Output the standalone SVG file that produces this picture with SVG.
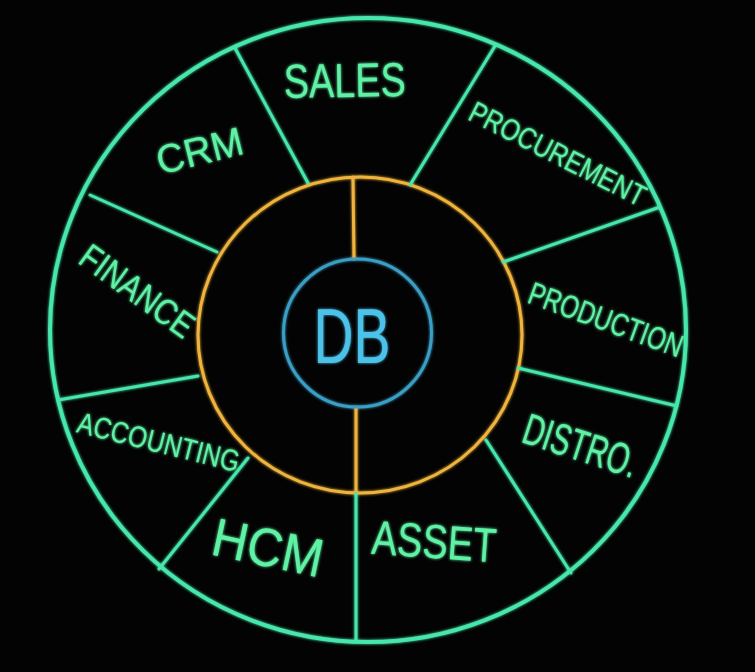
<svg xmlns="http://www.w3.org/2000/svg" width="755" height="672" viewBox="0 0 755 672">
<defs>
<filter id="glow" x="-10%" y="-10%" width="120%" height="120%">
<feGaussianBlur in="SourceGraphic" stdDeviation="1.6" result="b"/>
<feMerge><feMergeNode in="b"/><feMergeNode in="SourceGraphic"/></feMerge>
</filter>
</defs>
<style>
.g{stroke:#46e6ab;stroke-width:4;fill:none;stroke-linecap:round}
.gt{stroke:#46e6ab;stroke-width:3;fill:none;stroke-linecap:round}
.o{stroke:#f0b43c;stroke-width:3;fill:none;stroke-linecap:round}
.b{stroke:#3a9ec4;stroke-width:3;fill:none}
.lbl{fill:#5ef2a4;font-family:"Liberation Sans",Arial,sans-serif;text-anchor:middle}
.db{fill:#4cc2ea;font-family:"Liberation Sans",Arial,sans-serif;text-anchor:middle}
</style>
<rect width="755" height="672" fill="#030303"/>
<g filter="url(#glow)">
<g id="outer-ring"><ellipse class="g" cx="368" cy="330" rx="318" ry="312"/></g>
<g id="middle-ring">
<ellipse class="o" cx="360" cy="335" rx="162" ry="158"/>
<line class="o" x1="353" y1="177" x2="354" y2="259"/>
<line class="o" x1="356" y1="407" x2="356" y2="493"/>
</g>
<g id="connectors">
<line class="gt" x1="235" y1="48" x2="308" y2="183"/>
<line class="gt" x1="495" y1="46" x2="410" y2="185"/>
<line class="gt" x1="660" y1="207" x2="503" y2="262"/>
<line class="gt" x1="677" y1="406" x2="518" y2="368"/>
<line class="gt" x1="571" y1="573" x2="486" y2="440"/>
<line class="gt" x1="356" y1="641" x2="356" y2="493"/>
<line class="gt" x1="159" y1="569" x2="248" y2="458"/>
<line class="gt" x1="58" y1="400" x2="198" y2="376"/>
<line class="gt" x1="90" y1="195" x2="217" y2="252"/>
</g>
<g id="db">
<ellipse class="b" cx="357.5" cy="333" rx="74" ry="74"/>
<text class="db" x="352" y="363" font-size="78" textLength="77" lengthAdjust="spacingAndGlyphs">DB</text>
</g>
<g id="sales"><text class="lbl" x="345" y="97" font-size="48" textLength="122" lengthAdjust="spacingAndGlyphs" transform="rotate(-1 345 97)">SALES</text></g>
<g id="crm"><text class="lbl" x="203" y="164" font-size="40" textLength="88" lengthAdjust="spacingAndGlyphs" transform="rotate(-14 203 164)">CRM</text></g>
<g id="procurement"><text class="lbl" x="553" y="163" font-size="30" textLength="194" lengthAdjust="spacingAndGlyphs" transform="rotate(27 553 163)">PROCUREMENT</text></g>
<g id="production"><text class="lbl" x="602" y="330" font-size="32" textLength="162" lengthAdjust="spacingAndGlyphs" transform="rotate(20 602 330)">PRODUCTION</text></g>
<g id="distro"><text class="lbl" x="576" y="460" font-size="44" textLength="118" lengthAdjust="spacingAndGlyphs" transform="rotate(18 576 460)">DISTRO.</text></g>
<g id="asset"><text class="lbl" x="433" y="558" font-size="48" textLength="125" lengthAdjust="spacingAndGlyphs" transform="rotate(4 433 558)">ASSET</text></g>
<g id="hcm"><text class="lbl" x="264" y="566" font-size="54" textLength="112" lengthAdjust="spacingAndGlyphs" transform="rotate(12 264 566)">HCM</text></g>
<g id="accounting"><text class="lbl" x="156" y="452" font-size="30" textLength="166" lengthAdjust="spacingAndGlyphs" transform="rotate(14 156 452)">ACCOUNTING</text></g>
<g id="finance"><text class="lbl" x="130" y="301" font-size="36" textLength="132" lengthAdjust="spacingAndGlyphs" transform="rotate(36 130 301)">FINANCE</text></g>
</g>
</svg>
